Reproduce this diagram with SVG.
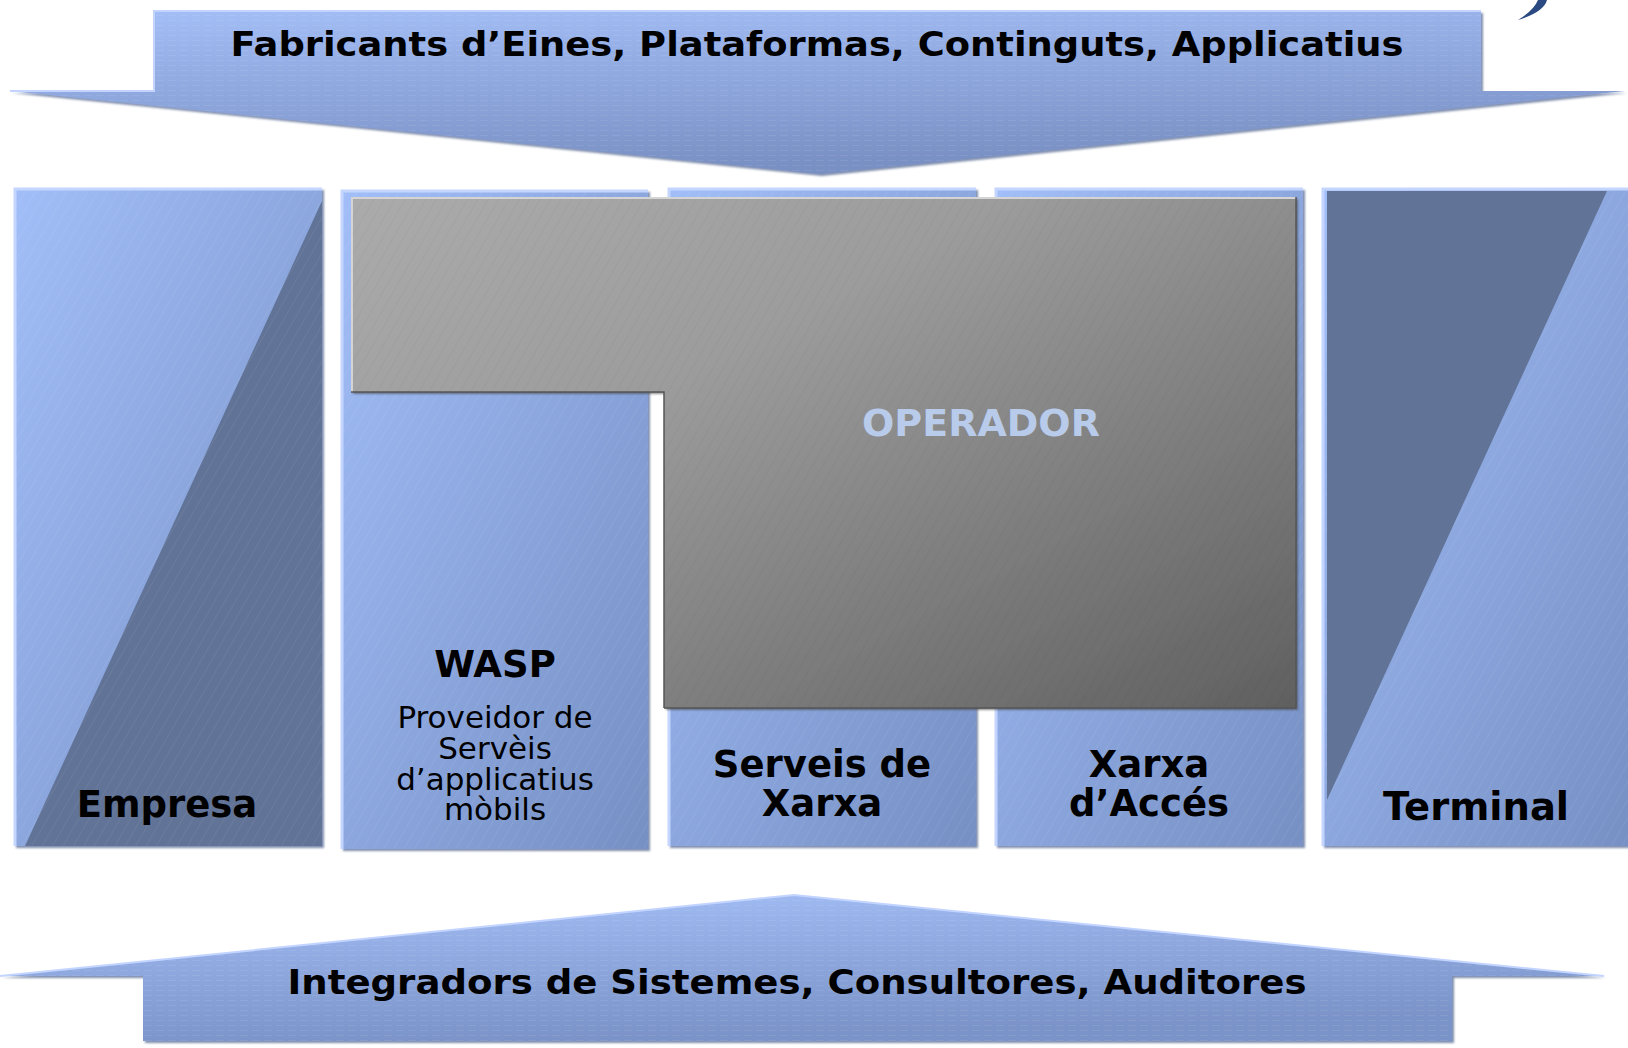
<svg xmlns="http://www.w3.org/2000/svg" width="1628" height="1048" viewBox="0 0 1628 1048">
<defs>
  <linearGradient id="gBlue" x1="0" y1="0" x2="1" y2="1">
    <stop offset="0" stop-color="#a2bef8"/>
    <stop offset="1" stop-color="#7690c4"/>
  </linearGradient>
  <linearGradient id="gArrowTop" x1="0" y1="0" x2="0.3" y2="1">
    <stop offset="0" stop-color="#a4bff7"/>
    <stop offset="1" stop-color="#7990c4"/>
  </linearGradient>
  <linearGradient id="gArrowBot" x1="0" y1="0" x2="0.3" y2="1">
    <stop offset="0" stop-color="#a4bff7"/>
    <stop offset="1" stop-color="#7a93c8"/>
  </linearGradient>
  <linearGradient id="gGray" x1="0" y1="0" x2="1" y2="1">
    <stop offset="0" stop-color="#ababab"/>
    <stop offset="0.35" stop-color="#9c9c9c"/>
    <stop offset="1" stop-color="#606060"/>
  </linearGradient>
  <pattern id="hatchD" width="9" height="9" patternUnits="userSpaceOnUse" patternTransform="rotate(30)">
    <line x1="0" y1="0" x2="0" y2="9" stroke="#ffffff" stroke-opacity="0.12" stroke-width="1"/>
  </pattern>
  <pattern id="hatchDk" width="9" height="9" patternUnits="userSpaceOnUse" patternTransform="rotate(30)">
    <line x1="0" y1="0" x2="0" y2="9" stroke="#000000" stroke-opacity="0.06" stroke-width="1"/>
  </pattern>
  <pattern id="hatchH" width="12" height="5" patternUnits="userSpaceOnUse">
    <line x1="0" y1="0" x2="8" y2="0" stroke="#ffffff" stroke-opacity="0.15" stroke-width="1"/>
  </pattern>
  <filter id="sh" x="-5%" y="-5%" width="110%" height="110%">
    <feDropShadow dx="2" dy="2" stdDeviation="1" flood-color="#4a5f8a" flood-opacity="0.7"/>
  </filter>
  <filter id="shg" x="-5%" y="-5%" width="110%" height="110%">
    <feDropShadow dx="2" dy="2" stdDeviation="1" flood-color="#404040" flood-opacity="0.6"/>
  </filter>
</defs>
<style>
  .col { fill: url(#gBlue); filter: url(#sh); }
  .hl { fill: none; stroke: #c4d6ff; stroke-width: 3; }
  .dark { fill: #617396; }
  .hd { fill: url(#hatchD); }
  .lbl { font-family: "DejaVu Sans", Verdana, sans-serif; font-weight: bold; font-size: 37px; fill: #000; text-anchor: middle; }
  .sub { font-family: "DejaVu Sans", Verdana, sans-serif; font-size: 31px; fill: #000; text-anchor: middle; }
  .title { font-family: "DejaVu Sans", Verdana, sans-serif; font-weight: bold; font-size: 34px; fill: #000; text-anchor: middle; }
</style>

<rect width="1628" height="1048" fill="#ffffff"/>

<!-- logo fragment top right -->
<path d="M1538,0 L1547,0 Q1544,12 1518,20 Q1534,10 1538,0 Z" fill="#2c4a82"/>

<g id="arrow-top">
  <polygon points="154,11 1481,11 1481,91 1625,91 820,174 10,91 154,91" fill="url(#gArrowTop)" filter="url(#sh)"/>
  <polygon points="154,11 1481,11 1481,91 1625,91 820,174 10,91 154,91" fill="url(#hatchH)"/>
  <polyline points="10,91 154,91 154,11 1481,11" fill="none" stroke="#c2d4ff" stroke-width="2"/>
  <text class="title" x="817" y="56" textLength="1173" lengthAdjust="spacingAndGlyphs">Fabricants d’Eines, Plataformas, Continguts, Applicatius</text>
</g>

<g id="empresa">
  <rect class="col" x="14" y="188" width="308" height="658"/>
  <polygon class="dark" points="322,201 322,846 25,846"/>
  <rect class="hd" x="14" y="188" width="308" height="658"/>
  <polyline class="hl" points="15,846 15,189 322,189"/>
  <text class="lbl" x="167" y="817">Empresa</text>
</g>

<g id="wasp">
  <rect class="col" x="341" y="190" width="307" height="659"/>
  <rect class="hd" x="341" y="190" width="307" height="659"/>
  <polyline class="hl" points="342,849 342,191 648,191"/>
  <text class="lbl" x="495" y="677">WASP</text>
  <text class="sub" x="495" y="728">Proveidor de</text>
  <text class="sub" x="495" y="759">Servèis</text>
  <text class="sub" x="495" y="790">d’applicatius</text>
  <text class="sub" x="495" y="820">mòbils</text>
</g>

<g id="serveis">
  <rect class="col" x="668" y="188" width="308" height="658"/>
  <rect class="hd" x="668" y="188" width="308" height="658"/>
  <polyline class="hl" points="669,846 669,189 976,189"/>
  <text class="lbl" x="822" y="777">Serveis de</text>
  <text class="lbl" x="822" y="816">Xarxa</text>
</g>

<g id="xarxa-acces">
  <rect class="col" x="995" y="188" width="308" height="658"/>
  <rect class="hd" x="995" y="188" width="308" height="658"/>
  <polyline class="hl" points="996,846 996,189 1303,189"/>
  <text class="lbl" x="1149" y="777">Xarxa</text>
  <text class="lbl" x="1149" y="816">d’Accés</text>
</g>

<g id="terminal">
  <rect class="col" x="1322" y="188" width="310" height="658"/>
  <rect class="hd" x="1322" y="188" width="310" height="658"/>
  <polygon class="dark" points="1327,191 1607,191 1327,800"/>
  <polyline class="hl" points="1323,846 1323,189 1628,189"/>
  <text class="lbl" x="1476" y="820" style="font-size:38.5px">Terminal</text>
</g>

<g id="operador">
  <polygon points="351,197 1296,197 1296,708 664,708 664,392 351,392" fill="url(#gGray)" filter="url(#shg)"/>
  <polygon points="351,197 1296,197 1296,708 664,708 664,392 351,392" fill="url(#hatchDk)"/>
  <polyline points="352,392 352,198 1296,198" fill="none" stroke="#d4d4d4" stroke-width="2"/>
  <polyline points="664,708 1296,708 1296,197" fill="none" stroke="#555555" stroke-width="1.5"/>
  <polyline points="351,392 664,392 664,708" fill="none" stroke="#555555" stroke-width="1.5"/>
  <text class="lbl" x="981" y="436" style="fill:#b9cbea;font-size:38px">OPERADOR</text>
</g>

<g id="arrow-bottom">
  <polygon points="143,1041 1452,1041 1452,976 1604,976 794,895 0,976 143,976" fill="url(#gArrowBot)" filter="url(#sh)"/>
  <polygon points="143,1041 1452,1041 1452,976 1604,976 794,895 0,976 143,976" fill="url(#hatchH)"/>
  <polyline points="0,976 794,895 1604,976" fill="none" stroke="#c2d4ff" stroke-width="2"/>
  <text class="title" x="797" y="994" textLength="1019" lengthAdjust="spacingAndGlyphs">Integradors de Sistemes, Consultores, Auditores</text>
</g>

<g id="connectors"></g>
</svg>
